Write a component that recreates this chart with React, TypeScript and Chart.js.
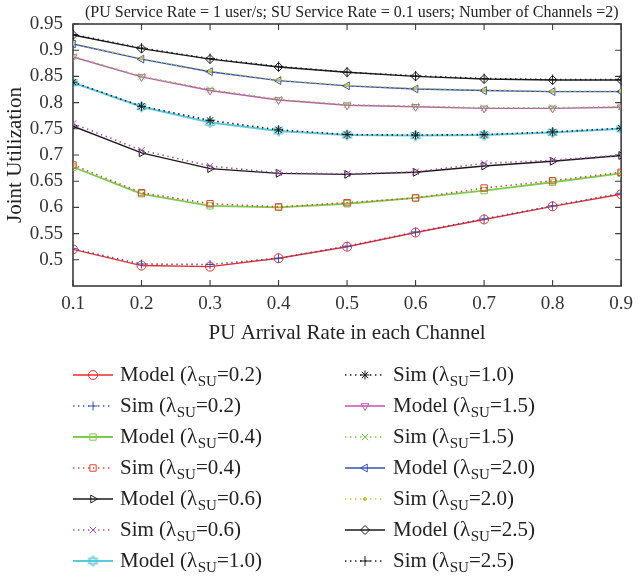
import React, { useEffect, useRef } from 'react';
import { Chart, registerables } from 'chart.js';
import { drawPoint } from 'chart.js/helpers';

Chart.register(...registerables);

// ---- data ----
const xValues = [0.1, 0.2, 0.3, 0.4, 0.5, 0.6, 0.7, 0.8, 0.9];
const yTickValues = [0.5, 0.55, 0.6, 0.65, 0.7, 0.75, 0.8, 0.85, 0.9, 0.95];

const model02 = [0.520, 0.489, 0.487, 0.503, 0.525, 0.552, 0.577, 0.602, 0.625];
const sim02 = [0.521, 0.492, 0.491, 0.503, 0.526, 0.553, 0.578, 0.603, 0.627];
const model04 = [0.677, 0.626, 0.603, 0.600, 0.607, 0.618, 0.632, 0.648, 0.665];
const sim04 = [0.681, 0.628, 0.607, 0.601, 0.609, 0.618, 0.637, 0.651, 0.667];
const model06 = [0.755, 0.704, 0.674, 0.665, 0.663, 0.667, 0.679, 0.688, 0.699];
const sim06 = [0.760, 0.709, 0.679, 0.666, 0.664, 0.668, 0.684, 0.690, 0.700];
const model10 = [0.838, 0.792, 0.762, 0.746, 0.738, 0.737, 0.738, 0.743, 0.750];
const sim10 = [0.839, 0.793, 0.766, 0.748, 0.739, 0.738, 0.739, 0.744, 0.751];
const model15 = [0.887, 0.849, 0.823, 0.805, 0.795, 0.792, 0.789, 0.789, 0.791];
const sim15 = [0.888, 0.850, 0.825, 0.806, 0.796, 0.793, 0.790, 0.790, 0.792];
const model20 = [0.912, 0.883, 0.859, 0.842, 0.832, 0.826, 0.823, 0.821, 0.821];
const sim20 = [0.913, 0.884, 0.860, 0.843, 0.833, 0.827, 0.824, 0.822, 0.822];
const model25 = [0.929, 0.903, 0.883, 0.868, 0.858, 0.850, 0.845, 0.843, 0.843];
const sim25 = [0.930, 0.904, 0.884, 0.869, 0.858, 0.851, 0.846, 0.844, 0.844];

const titleText = '(PU Service Rate = 1 user/s; SU Service Rate = 0.1 users; Number of Channels =2)';
const xTitle = 'PU Arrival Rate in each Channel';
const yTitle = 'Joint Utilization';

const FONT = '"Liberation Serif", "Times New Roman", serif';

function makeHexagram(color: string): HTMLCanvasElement {
  const c = document.createElement('canvas');
  c.width = 13; c.height = 13;
  const g = c.getContext('2d')!;
  g.strokeStyle = color; g.lineWidth = 1;
  const cx = 6.5, cy = 6.5, r = 5.5;
  for (const off of [-Math.PI / 2, Math.PI / 2]) {
    g.beginPath();
    for (let k = 0; k < 3; k++) {
      const ang = off + k * 2 * Math.PI / 3;
      const px = cx + r * Math.cos(ang), py = cy + r * Math.sin(ang);
      if (k === 0) g.moveTo(px, py); else g.lineTo(px, py);
    }
    g.closePath(); g.stroke();
  }
  return c;
}

type Series = { kind: string; lam: string; values: number[]; color: string; sim: boolean; style: any; rot?: number; radius?: number; fill?: boolean; width?: number };

const DASH = [1.4, 3.6];

export default function App() {
  const ref = useRef<HTMLCanvasElement>(null);
  useEffect(() => {
    const hex = makeHexagram('#4cc3d9');
    const series: Series[] = [
      { kind: 'Model', lam: '0.2', values: model02, color: '#ee2a2a', sim: false, style: 'circle' },
      { kind: 'Sim', lam: '0.2', values: sim02, color: '#3452b4', sim: true, style: 'cross' },
      { kind: 'Model', lam: '0.4', values: model04, color: '#7ccc4c', sim: false, style: 'rect', width: 1.8 },
      { kind: 'Sim', lam: '0.4', values: sim04, color: '#e0402c', sim: true, style: 'rect' },
      { kind: 'Model', lam: '0.6', values: model06, color: '#1a1a1a', sim: false, style: 'triangle', rot: 90 },
      { kind: 'Sim', lam: '0.6', values: sim06, color: '#a44ca8', sim: true, style: 'crossRot' },
      { kind: 'Model', lam: '1.0', values: model10, color: '#5cc8dc', sim: false, style: hex, width: 2 },
      { kind: 'Sim', lam: '1.0', values: sim10, color: '#1a1a1a', sim: true, style: 'star' },
      { kind: 'Model', lam: '1.5', values: model15, color: '#c452b4', sim: false, style: 'triangle', rot: 180 },
      { kind: 'Sim', lam: '1.5', values: sim15, color: '#6cc83c', sim: true, style: 'crossRot' },
      { kind: 'Model', lam: '2.0', values: model20, color: '#3452b4', sim: false, style: 'triangle', rot: -90 },
      { kind: 'Sim', lam: '2.0', values: sim20, color: '#c8c43c', sim: true, style: 'circle', radius: 1.6, fill: true },
      { kind: 'Model', lam: '2.5', values: model25, color: '#1a1a1a', sim: false, style: 'rectRot' },
      { kind: 'Sim', lam: '2.5', values: sim25, color: '#1a1a1a', sim: true, style: 'cross', radius: 5 },
    ];
    const n = series.length;
    const datasets = series.map((s, i) => ({
      label: `${s.kind} ${s.lam}`,
      data: xValues.map((x, j) => ({ x, y: s.values[j] })),
      borderColor: s.color,
      backgroundColor: s.fill ? s.color : 'rgba(0,0,0,0)',
      borderWidth: s.width ?? (s.sim ? 1.6 : 1.4),
      borderDash: s.sim ? DASH : [],
      pointStyle: s.style,
      pointRotation: s.rot ?? 0,
      pointRadius: s.radius ?? 4.5,
      pointBorderWidth: 1,
      pointBorderColor: s.color,
      pointBackgroundColor: s.fill ? s.color : 'rgba(0,0,0,0)',
      tension: 0,
      order: n - i,
    }));

    const decor = {
      id: 'decor',
      beforeDatasetsDraw(chart: any) {
        const { ctx, chartArea: a, scales } = chart;
        const xs = scales.x, ys = scales.y;
        ctx.save();
        ctx.strokeStyle = '#3c3c3c';
        ctx.lineWidth = 1.1;
        ctx.beginPath();
        xs.ticks.forEach((t: any) => {
          const px = xs.getPixelForValue(t.value);
          ctx.moveTo(px, a.bottom); ctx.lineTo(px, a.bottom - 6);
          ctx.moveTo(px, a.top); ctx.lineTo(px, a.top + 6);
        });
        ys.ticks.forEach((t: any) => {
          const py = ys.getPixelForValue(t.value);
          ctx.moveTo(a.left, py); ctx.lineTo(a.left + 6, py);
          ctx.moveTo(a.right, py); ctx.lineTo(a.right - 6, py);
        });
        ctx.stroke();
        ctx.lineWidth = 1.6;
        ctx.strokeRect(a.left, a.top, a.right - a.left, a.bottom - a.top);
        ctx.restore();
      },
      afterDraw(chart: any) {
        const { ctx } = chart;
        ctx.save();
        // title annotation
        ctx.fillStyle = '#222';
        ctx.font = `16px ${FONT}`;
        ctx.textAlign = 'left';
        ctx.textBaseline = 'middle';
        ctx.fillText(titleText, 85, 13);
        // legend
        const rowY0 = 375, rowStep = 31;
        const colLine = [73, 345];
        const colText = [120, 393];
        series.forEach((s, i) => {
          const col = i < 7 ? 0 : 1;
          const row = i % 7;
          const cy = rowY0 + row * rowStep;
          const lx = colLine[col];
          ctx.save();
          ctx.strokeStyle = s.color;
          ctx.lineWidth = s.width ?? (s.sim ? 1.6 : 1.4);
          ctx.setLineDash(s.sim ? DASH : []);
          ctx.beginPath();
          ctx.moveTo(lx, cy); ctx.lineTo(lx + 40, cy);
          ctx.stroke();
          ctx.setLineDash([]);
          ctx.lineWidth = 1;
          ctx.fillStyle = s.fill ? s.color : 'rgba(0,0,0,0)';
          drawPoint(ctx, { pointStyle: s.style, rotation: s.rot ?? 0, radius: s.radius ?? 4.5, borderWidth: 1 } as any, lx + 20, cy);
          ctx.restore();
          // text
          let tx = colText[col];
          const base = cy + 6;
          ctx.fillStyle = '#222';
          ctx.textAlign = 'left';
          ctx.textBaseline = 'alphabetic';
          ctx.font = `21px ${FONT}`;
          const p1 = `${s.kind} (`;
          ctx.fillText(p1, tx, base); tx += ctx.measureText(p1).width;
          ctx.fillText('λ', tx, base); tx += ctx.measureText('λ').width + 0.5;
          ctx.font = `15px ${FONT}`;
          ctx.fillText('SU', tx, base + 5); tx += ctx.measureText('SU').width;
          ctx.font = `21px ${FONT}`;
          ctx.fillText(`=${s.lam})`, tx, base);
        });
        ctx.restore();
      },
    };

    const chart = new Chart(ref.current!, {
      type: 'line',
      data: { datasets: datasets as any },
      options: {
        animation: false,
        responsive: true,
        maintainAspectRatio: false,
        layout: { padding: { left: 0, right: 13, top: 24, bottom: 232.4 } },
        plugins: { legend: { display: false }, tooltip: { enabled: false }, title: { display: false } },
        scales: {
          x: {
            type: 'linear',
            min: 0.1,
            max: 0.9,
            grid: { display: false, drawTicks: false },
            border: { display: false },
            ticks: {
              stepSize: 0.1,
              padding: 7,
              color: '#333',
              font: { family: FONT, size: 19 },
              maxRotation: 0,
              callback: (v: any) => (Math.round(Number(v) * 10) / 10).toFixed(1),
            },
            title: { display: true, text: xTitle, color: '#222', font: { family: FONT, size: 21, lineHeight: 1.2 }, padding: { top: 0, bottom: 0 } },
            afterFit: (s: any) => { s.height = 59.6; },
          },
          y: {
            type: 'linear',
            min: 0.45,
            max: 0.95,
            grid: { display: false, drawTicks: false },
            border: { display: false },
            afterBuildTicks: (s: any) => { s.ticks = yTickValues.map((v) => ({ value: v })); },
            ticks: {
              padding: 10,
              color: '#333',
              font: { family: FONT, size: 19 },
              callback: (v: any) => String(Math.round(Number(v) * 100) / 100),
            },
            title: { display: true, text: yTitle, color: '#222', font: { family: FONT, size: 21, lineHeight: 1.2 }, padding: { top: 2.9, bottom: 0 } },
            afterFit: (s: any) => { s.width = 73; },
          },
        },
      },
      plugins: [decor],
    });
    return () => chart.destroy();
  }, []);
  return (
    <div style={{ position: 'absolute', left: 0, top: 0, width: 640, height: 578, background: '#fff' }}>
      <canvas ref={ref} />
    </div>
  );
}
